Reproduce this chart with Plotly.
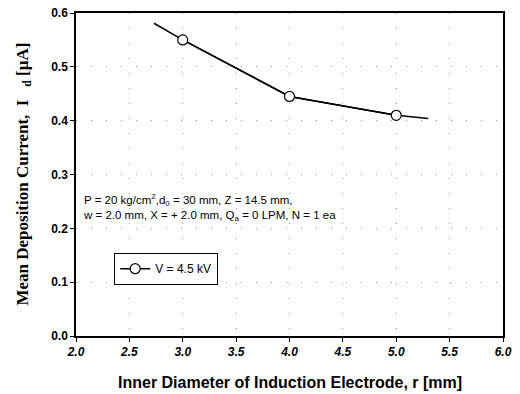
import plotly.graph_objects as go

# measured points
r_pts = [3.0, 4.0, 5.0]
i_pts = [0.550, 0.445, 0.410]
# trend line (extended beyond measured points, as drawn)
r_line = [2.73, 3.0, 4.0, 5.0, 5.3]
i_line = [0.581, 0.550, 0.445, 0.410, 0.404]

x_ticks = [2.0, 2.5, 3.0, 3.5, 4.0, 4.5, 5.0, 5.5, 6.0]
y_ticks = [0.0, 0.1, 0.2, 0.3, 0.4, 0.5, 0.6]

fig = go.Figure()
fig.add_trace(go.Scatter(x=r_line, y=i_line, mode="lines",
                         line=dict(color="black", width=1.5), showlegend=False,
                         hoverinfo="skip"))
fig.add_trace(go.Scatter(x=r_pts, y=i_pts, mode="lines+markers", name="V = 4.5 kV",
                         line=dict(color="black", width=1.5),
                         marker=dict(symbol="circle", size=10, color="white",
                                     line=dict(color="black", width=1.2))))

axis_common = dict(showline=True, linecolor="black", linewidth=1.5, mirror=True,
                   showgrid=True, gridcolor="#999999", gridwidth=1, griddash="1px,14px",
                   zeroline=False, ticks="outside", ticklen=4, tickcolor="black",
                   automargin=False)

fig.update_xaxes(range=[2.0, 6.0], tickvals=x_ticks,
                 ticktext=[f"<i>{v:.1f}</i>" for v in x_ticks],
                 tickfont=dict(family="Arial, Liberation Sans", size=12, color="black", weight="bold"),
                 **axis_common)
fig.update_yaxes(range=[0.0, 0.6], tickvals=y_ticks,
                 ticktext=[f"{v:.1f}" for v in y_ticks],
                 tickfont=dict(family="Arial, Liberation Sans", size=12, color="black", weight="bold"),
                 **axis_common)

# axis titles
fig.add_annotation(xref="paper", yref="paper", x=0.5, y=-0.143, xanchor="center", yanchor="middle",
                   text="<b>Inner Diameter of Induction Electrode, r [mm]</b>", showarrow=False,
                   font=dict(family="Arial, Liberation Sans", size=16, color="black"))
fig.add_annotation(xref="paper", yref="paper", x=-0.124, y=0.5, xanchor="center", yanchor="middle",
                   textangle=-90,
                   text="<b>Mean Deposition Current,  I   <sub>d</sub> [μA]</b>", showarrow=False,
                   font=dict(family="Times New Roman, Liberation Serif", size=17, color="black"))

fig.add_annotation(xref="paper", yref="paper", x=0.012, y=0.345, xanchor="left", yanchor="bottom",
                   text="P = 20 kg/cm<sup>2</sup>,d<sub>0</sub> = 30 mm, Z = 14.5 mm,<br>"
                        "w = 2.0 mm, X = + 2.0 mm, Q<sub>a</sub> = 0 LPM, N = 1 ea",
                   showarrow=False, align="left",
                   font=dict(family="Arial, Liberation Sans", size=11.5, color="black"))

fig.update_layout(width=520, height=394, margin=dict(l=76, r=17, t=13, b=58),
                  paper_bgcolor="white", plot_bgcolor="white",
                  legend=dict(x=0.089, y=0.257, xanchor="left", yanchor="top",
                              bgcolor="white", bordercolor="black", borderwidth=1.2,
                              font=dict(family="Arial, Liberation Sans", size=12, color="black")),
                  showlegend=True)

fig.write_html("out.html")
